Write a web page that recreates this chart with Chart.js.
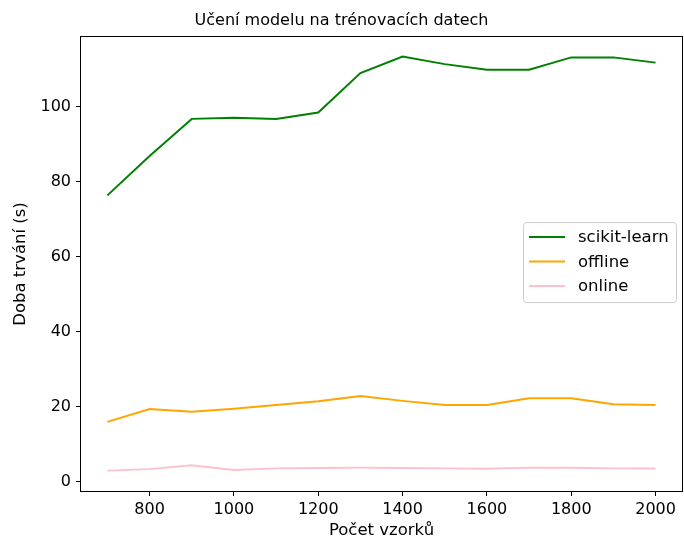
<!DOCTYPE html>
<html>
<head>
<meta charset="utf-8">
<script src="https://cdn.jsdelivr.net/npm/chart.js@4.4.0/dist/chart.umd.min.js"></script>
<style>
  html, body { margin: 0; padding: 0; background: #fff; }
  #wrap { width: 684px; height: 542px; }
</style>
</head>
<body>
<div id="wrap"><canvas id="chart" width="684" height="542"></canvas></div>
<script>
// sample counts
const samples = [700, 800, 900, 1000, 1100, 1200, 1300, 1400, 1500, 1600, 1700, 1800, 1900, 2000];
// training duration in seconds
const sklearnTimes = [76.3, 86.8, 96.7, 97.0, 96.7, 98.4, 108.9, 113.3, 111.3, 109.8, 109.8, 113.1, 113.1, 111.7];
const offlineTimes = [15.9, 19.3, 18.6, 19.4, 20.4, 21.4, 22.8, 21.5, 20.4, 20.4, 22.2, 22.2, 20.6, 20.4];
const onlineTimes = [2.9, 3.3, 4.3, 3.1, 3.5, 3.6, 3.7, 3.6, 3.5, 3.4, 3.7, 3.7, 3.5, 3.5];
const xTicks = [800, 1000, 1200, 1400, 1600, 1800, 2000];
const yTicks = [0, 20, 40, 60, 80, 100];

const FONT = 'DejaVu Sans';

function toPoints(values) {
    return samples.map((x, i) => ({ x: x, y: values[i] }));
}

// full box around the plot area (matplotlib style spines)
const frame = {
    id: 'frame',
    afterDraw(chart) {
        const { ctx, chartArea: a } = chart;
        ctx.save();
        ctx.strokeStyle = '#000';
        ctx.lineWidth = 1;
        ctx.strokeRect(Math.round(a.left) + 0.5, Math.round(a.top) + 0.5,
            Math.round(a.right - a.left) - 1, Math.round(a.bottom - a.top) - 1);
        ctx.restore();
    }
};

// legend drawn inside the axes, right side
const insideLegend = {
    id: 'insideLegend',
    afterDraw(chart) {
        const ctx = chart.ctx;
        const box = { x: 523.5, y: 222.5, w: 153, h: 80 };
        ctx.save();
        ctx.fillStyle = 'rgba(255,255,255,0.8)';
        ctx.strokeStyle = '#cccccc';
        ctx.lineWidth = 1;
        ctx.beginPath();
        ctx.roundRect(box.x, box.y, box.w, box.h, 3);
        ctx.fill();
        ctx.stroke();
        ctx.font = '16.5px "' + FONT + '"';
        ctx.textBaseline = 'middle';
        chart.data.datasets.forEach((ds, i) => {
            const y = 237 + i * 24.5;
            ctx.strokeStyle = ds.borderColor;
            ctx.lineWidth = 2;
            ctx.beginPath();
            ctx.moveTo(529, y);
            ctx.lineTo(565, y);
            ctx.stroke();
            ctx.fillStyle = '#000';
            ctx.fillText(ds.label, 578, y + 1);
        });
        ctx.restore();
    }
};

new Chart(document.getElementById('chart'), {
    type: 'line',
    data: {
        datasets: [
            { label: 'scikit-learn', data: toPoints(sklearnTimes), borderColor: '#008000' },
            { label: 'offline', data: toPoints(offlineTimes), borderColor: '#FFA500' },
            { label: 'online', data: toPoints(onlineTimes), borderColor: '#FFC0CB' }
        ]
    },
    options: {
        responsive: false,
        animation: false,
        devicePixelRatio: 1,
        elements: {
            line: { borderWidth: 2, tension: 0, fill: false },
            point: { radius: 0 }
        },
        layout: { padding: { top: 0, right: 1, left: 0, bottom: 0 } },
        plugins: {
            legend: { display: false },
            tooltip: { enabled: false },
            title: {
                display: true,
                text: 'Učení modelu na trénovacích datech',
                color: '#000',
                font: { family: FONT, size: 16, weight: 'normal' },
                padding: { top: 11, bottom: 5.8 }
            }
        },
        scales: {
            x: {
                type: 'linear',
                min: 635,
                max: 2065,
                afterBuildTicks: (scale) => { scale.ticks = xTicks.map(v => ({ value: v })); },
                afterFit: (scale) => { scale.height = 50; },
                grid: { drawOnChartArea: false, drawTicks: true, tickLength: 4, color: '#000' },
                border: { display: false },
                ticks: {
                    color: '#000',
                    font: { family: FONT, size: 16 },
                    padding: 4,
                    maxRotation: 0,
                    autoSkip: false,
                    callback: (v) => String(v)
                },
                title: {
                    display: true,
                    text: 'Počet vzorků',
                    color: '#000',
                    font: { family: FONT, size: 16.5 },
                    padding: { top: 0, bottom: 1 }
                }
            },
            y: {
                type: 'linear',
                min: -2.8,
                max: 118.8,
                afterBuildTicks: (scale) => { scale.ticks = yTicks.map(v => ({ value: v })); },
                afterFit: (scale) => { scale.width = 80; },
                grid: { drawOnChartArea: false, drawTicks: true, tickLength: 4, color: '#000' },
                border: { display: false },
                ticks: {
                    color: '#000',
                    font: { family: FONT, size: 16 },
                    padding: 5,
                    autoSkip: false,
                    callback: (v) => String(v)
                },
                title: {
                    display: true,
                    text: 'Doba trvání (s)',
                    color: '#000',
                    font: { family: FONT, size: 16.5 },
                    padding: { top: 11, bottom: 0 }
                }
            }
        }
    },
    plugins: [frame, insideLegend]
});
</script>
</body>
</html>
